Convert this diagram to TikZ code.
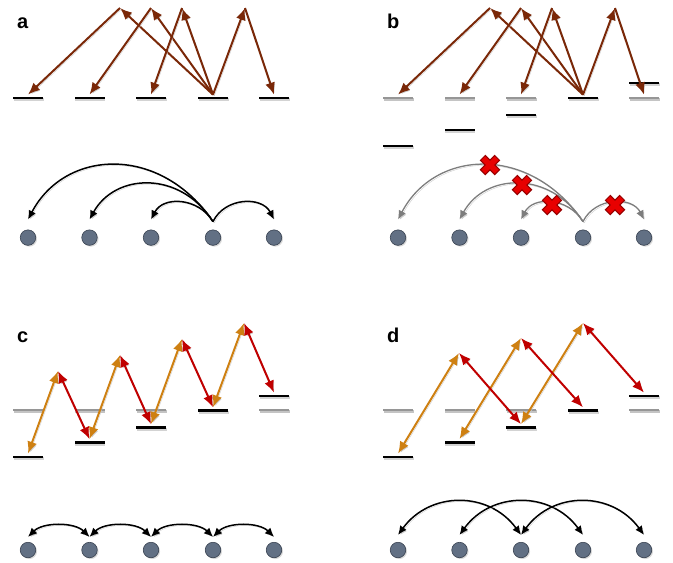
\documentclass[tikz,border=0pt]{standalone}
\usepackage{fontspec}
\setmainfont{Liberation Sans}
\usetikzlibrary{arrows.meta,shadows,calc}
\definecolor{brn}{RGB}{122,40,8}
\definecolor{org}{RGB}{206,128,18}
\definecolor{rd}{RGB}{192,0,0}
\definecolor{slate}{RGB}{98,112,132}
\definecolor{slatedk}{RGB}{55,65,80}
\definecolor{xred}{RGB}{232,0,0}
\definecolor{xdk}{RGB}{150,0,0}
\definecolor{glev}{RGB}{150,150,150}
\definecolor{garcc}{RGB}{125,125,125}
\begin{document}
\begin{tikzpicture}[x=1pt,y=-1pt,
  shline/.style={preaction={draw=black!20, transform canvas={shift={(1.3pt,-1.3pt)}}}},
  lev/.style={rectangle, draw=none, fill=black, minimum width=30pt, minimum height=2.8pt,
    inner sep=0pt, outer xsep=0pt, outer ysep=2pt,
    drop shadow={shadow xshift=0.8pt, shadow yshift=-1.6pt, opacity=0.35}},
  glevel/.style={lev, fill=glev, drop shadow={shadow xshift=0.8pt, shadow yshift=-1.6pt, opacity=0.18}},
  dot/.style={circle, fill=slate, draw=slatedk, line width=0.6pt, minimum size=15.5pt, inner sep=0pt,
    drop shadow={shadow xshift=1.3pt, shadow yshift=-1.3pt, opacity=0.3}},
  bra/.style={draw=brn, line width=2pt, -{Latex[length=12pt,width=10pt]}, shline},
  ora/.style={draw=org, line width=2pt, {Latex[length=12pt,width=10pt]}-{Latex[length=12pt,width=10pt]}, shline},
  rda/.style={draw=rd, line width=2pt, {Latex[length=12pt,width=10pt]}-{Latex[length=12pt,width=10pt]}, shline},
  arcb/.style={draw=black, line width=1.5pt, -{Latex[length=9pt,width=8pt]}, shline},
  arcg/.style={draw=garcc, line width=1.3pt, -{Latex[length=9pt,width=8pt]}, shline},
  arcd/.style={draw=black, line width=1.5pt, {Latex[length=9pt,width=8pt]}-{Latex[length=9pt,width=8pt]}, shline},
  lab/.style={font=\fontsize{20}{24}\selectfont\bfseries, inner sep=0pt, anchor=base west},
  xmark/.pic={
    \draw[xdk, line width=8pt] (-7.5,-7.5)--(7.5,7.5);
    \draw[xdk, line width=8pt] (-7.5,7.5)--(7.5,-7.5);
    \draw[xred, line width=5.6pt, shorten <=1.2pt, shorten >=1.2pt] (-7.5,-7.5)--(7.5,7.5);
    \draw[xred, line width=5.6pt, shorten <=1.2pt, shorten >=1.2pt] (-7.5,7.5)--(7.5,-7.5);
  }]
\useasboundingbox (0,0) rectangle (673,563);

% ---------------- labels
\node[lab] (la) at (17,28) {a};
\node[lab] (lb) at (387,28) {b};
\node[lab] (lc) at (17,342) {c};
\node[lab] (ld) at (387,342) {d};

% ---------------- panel a
\foreach \i/\x in {1/28,2/89.5,3/151,4/213,5/274}
  \node[lev] (al\i) at (\x,98) {};
\coordinate (aa1) at (120,8);
\coordinate (aa2) at (151,8);
\coordinate (aa3) at (182,8);
\coordinate (aa4) at (245,8);
\draw[bra] (al4.north) -- (aa1);
\draw[bra] (aa1) -- (al1.north);
\draw[bra] (al4.north) -- (aa2);
\draw[bra] (aa2) -- (al2.north);
\draw[bra] (al4.north) -- (aa3);
\draw[bra] (aa3) -- (al3.north);
\draw[bra] (al4.north) -- (aa4);
\draw[bra] (aa4) -- (al5.north);

\foreach \i/\x in {1/28,2/89.5,3/151,4/213,5/274}
  \node[dot] (ad\i) at (\x,237.6) {};
\draw[arcb] ([yshift=8pt]ad4.north) .. controls (160,144) and (65,149) .. ([yshift=10pt]ad1.north);
\draw[arcb] ([yshift=8pt]ad4.north) .. controls (180,170) and (115,173) .. ([yshift=10pt]ad2.north);
\draw[arcb] ([yshift=8pt]ad4.north) .. controls (198,197) and (163,196) .. ([yshift=10pt]ad3.north);
\draw[arcb] ([yshift=8pt]ad4.north) .. controls (225,197) and (262,196) .. ([yshift=10pt]ad5.north);

% ---------------- panel b
\foreach \i/\x in {1/398,2/459.5,3/521,5/644}
  \node[glevel] (bg\i) at (\x,98) {};
\node[lev] (bl1) at (398,146) {};
\node[lev] (bl2) at (459.5,130) {};
\node[lev] (bl3) at (521,115) {};
\node[lev] (bl4) at (583,98) {};
\node[lev] (bl5) at (644,83) {};
\coordinate (ba1) at (490,8);
\coordinate (ba2) at (521,8);
\coordinate (ba3) at (552,8);
\coordinate (ba4) at (615,8);
\draw[bra] (bl4.north) -- (ba1);
\draw[bra] (ba1) -- (bg1.north);
\draw[bra] (bl4.north) -- (ba2);
\draw[bra] (ba2) -- (bg2.north);
\draw[bra] (bl4.north) -- (ba3);
\draw[bra] (ba3) -- (bg3.north);
\draw[bra] (bl4.north) -- (ba4);
\draw[bra] (ba4) -- (bg5.north);

\foreach \i/\x in {1/398,2/459.5,3/521,4/583,5/644}
  \node[dot] (bd\i) at (\x,237.6) {};
\draw[arcg] ([yshift=8pt]bd4.north) .. controls (530,144) and (435,149) .. ([yshift=10pt]bd1.north);
\draw[arcg] ([yshift=8pt]bd4.north) .. controls (550,170) and (485,173) .. ([yshift=10pt]bd2.north);
\draw[arcg] ([yshift=8pt]bd4.north) .. controls (568,197) and (533,196) .. ([yshift=10pt]bd3.north);
\draw[arcg] ([yshift=8pt]bd4.north) .. controls (595,197) and (632,196) .. ([yshift=10pt]bd5.north);
\pic (bx1) at (490,165) {xmark};
\pic (bx2) at (522,185) {xmark};
\pic (bx3) at (552,205) {xmark};
\pic (bx4) at (615,205) {xmark};

% ---------------- panel c
\foreach \i/\x in {1/28,2/89.5,3/151,5/274}
  \node[glevel] (cg\i) at (\x,410) {};
\node[lev] (cl1) at (28,457) {};
\node[lev] (cl2) at (89.5,442.5) {};
\node[lev] (cl3) at (151,427.5) {};
\node[lev] (cl4) at (213,410.7) {};
\node[lev] (cl5) at (274,396) {};
\coordinate (ca1) at (58,371);
\coordinate (ca2) at (120,355);
\coordinate (ca3) at (182,339);
\coordinate (ca4) at (244,323);
\draw[ora] (cl1.north) -- (ca1);
\draw[rda] (ca1) -- (cl2.north);
\draw[ora] (cl2.north) -- (ca2);
\draw[rda] (ca2) -- (cl3.north);
\draw[ora] (cl3.north) -- (ca3);
\draw[rda] (ca3) -- (cl4.north);
\draw[ora] (cl4.north) -- (ca4);
\draw[rda] (ca4) -- (cl5.north);

\foreach \i/\x in {1/28,2/89.5,3/151,4/213,5/274}
  \node[dot] (cd\i) at (\x,550) {};
\foreach \i/\j in {1/2,2/3,3/4,4/5}
  \draw[arcd] ([yshift=5pt]cd\i.north) .. controls ([xshift=15pt,yshift=20pt]cd\i.north) and ([xshift=-15pt,yshift=20pt]cd\j.north) .. ([yshift=5pt]cd\j.north);

% ---------------- panel d
\foreach \i/\x in {1/398,2/459.5,3/521,5/644}
  \node[glevel] (dg\i) at (\x,410) {};
\node[lev] (dl1) at (398,457) {};
\node[lev] (dl2) at (459.5,442.5) {};
\node[lev] (dl3) at (521,427.5) {};
\node[lev] (dl4) at (583,410.7) {};
\node[lev] (dl5) at (644,396) {};
\coordinate (da1) at (459,353);
\coordinate (da2) at (521,338);
\coordinate (da3) at (583,323);
\draw[ora] (dl1.north) -- (da1);
\draw[ora] (dl2.north) -- (da2);
\draw[ora] (dl3.north) -- (da3);
\draw[rda] (da1) -- (dl3.north);
\draw[rda] (da2) -- (dl4.north);
\draw[rda] (da3) -- (dl5.north);

\foreach \i/\x in {1/398,2/459.5,3/521,4/583,5/644}
  \node[dot] (dd\i) at (\x,550) {};
\foreach \i/\j in {1/3,2/4,3/5}
  \draw[arcd] ([yshift=7pt]dd\i.north) .. controls ([xshift=32pt,yshift=51pt]dd\i.north) and ([xshift=-32pt,yshift=51pt]dd\j.north) .. ([yshift=7pt]dd\j.north);
\end{tikzpicture}
\end{document}
